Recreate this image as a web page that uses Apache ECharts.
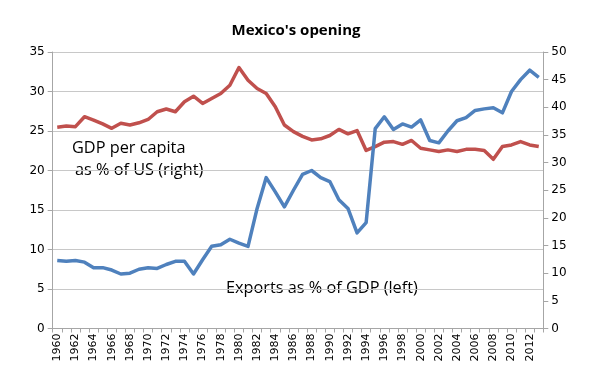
<!DOCTYPE html>
<html><head><meta charset="utf-8">
<script src="https://cdn.jsdelivr.net/npm/echarts@6/dist/echarts.min.js"></script>
<style>html,body{margin:0;padding:0;background:#fff}#c{width:592px;height:382px}</style>
</head><body><div id="c"></div>
<script>
const years = [];
for (let y = 1960; y <= 2013; y++) years.push(String(y));
const exportsPctGDP = [8.6,8.5,8.6,8.4,7.7,7.7,7.4,6.9,7.0,7.5,7.7,7.6,8.1,8.5,8.5,6.9,8.7,10.4,10.6,11.3,10.8,10.4,15.2,19.1,17.3,15.4,17.5,19.5,20.0,19.1,18.6,16.3,15.2,12.1,13.4,25.3,26.8,25.2,25.9,25.5,26.4,23.8,23.5,25.0,26.3,26.7,27.6,27.8,27.95,27.3,30.0,31.5,32.7,31.8];
const gdpPcPctUS = [36.4,36.6,36.5,38.3,37.7,37.0,36.2,37.1,36.8,37.2,37.8,39.2,39.7,39.2,41.0,42.0,40.7,41.6,42.5,44.0,47.2,44.9,43.4,42.5,40.1,36.8,35.6,34.75,34.1,34.3,34.9,36.0,35.2,35.8,32.2,32.9,33.7,33.8,33.3,34.0,32.6,32.3,32.0,32.3,32.0,32.4,32.4,32.2,30.6,32.9,33.2,33.8,33.2,32.9];
const titleText = "Mexico's opening";
const labelGDP = ["GDP per capita", "as % of US (right)"];
const labelExports = "Exports as % of GDP (left)";

const FONT = "DejaVu Sans";
const ANN = '16.3px "Open Sans"';
const chart = echarts.init(document.getElementById('c'), null, {renderer: 'canvas'});
chart.setOption({
  animation: false,
  backgroundColor: '#fff',
  title: {text: titleText, left: 'center', top: 18,
    textStyle: {fontFamily: 'Open Sans', fontWeight: 'bold', fontSize: 15, color: '#000'}},
  grid: {left: 52.7, right: 48.7, top: 52, bottom: 53.5, containLabel: false},
  xAxis: {type: 'category', data: years, boundaryGap: true,
    axisLine: {lineStyle: {color: '#a6a6a6', width: 1}},
    axisTick: {show: true, interval: 0, length: 4, lineStyle: {color: '#a6a6a6'}},
    axisLabel: {interval: 1, rotate: 90, fontFamily: FONT, fontSize: 11, color: '#000', margin: 5}},
  yAxis: [
    {type: 'value', min: 0, max: 35, interval: 5, position: 'left',
      axisLine: {show: true, lineStyle: {color: '#a6a6a6'}},
      axisTick: {show: true, length: 5, lineStyle: {color: '#a6a6a6'}},
      splitLine: {show: true, lineStyle: {color: '#c8c8c8', width: 1}},
      axisLabel: {fontFamily: FONT, fontSize: 12, color: '#000', margin: 8}},
    {type: 'value', min: 0, max: 50, interval: 5, position: 'right',
      axisLine: {show: true, lineStyle: {color: '#a6a6a6'}},
      axisTick: {show: true, length: 5, lineStyle: {color: '#a6a6a6'}},
      splitLine: {show: false},
      axisLabel: {fontFamily: FONT, fontSize: 12, color: '#000', margin: 8}}
  ],
  series: [
    {name: 'GDP per capita as % of US', type: 'line', yAxisIndex: 1, data: gdpPcPctUS,
      symbol: 'none', lineStyle: {color: '#C0504D', width: 3.5, join: 'round'}, z: 2},
    {name: 'Exports as % of GDP', type: 'line', yAxisIndex: 0, data: exportsPctGDP,
      symbol: 'none', lineStyle: {color: '#4F81BD', width: 3.5, join: 'round'}, z: 3}
  ],
  graphic: [
    {type: 'text', left: 72, top: 140.5, style: {text: labelGDP[0], font: ANN, fill: '#000'}},
    {type: 'text', left: 75, top: 162.5, style: {text: labelGDP[1], font: ANN, fill: '#000'}},
    {type: 'text', left: 226, top: 280.5, style: {text: labelExports, font: ANN, fill: '#000'}}
  ]
});
</script></body></html>
